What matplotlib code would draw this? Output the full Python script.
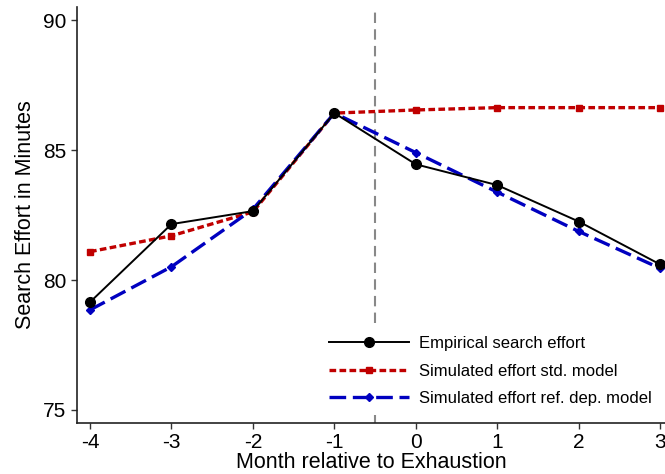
import numpy as np
import matplotlib
matplotlib.use('Agg')
import matplotlib.pyplot as plt

plt.rcParams['font.family'] = ['Liberation Sans', 'DejaVu Sans']
plt.rcParams['axes.unicode_minus'] = False

# months relative to exhaustion
months = [-4, -3, -2, -1, 0, 1, 2, 3]

# search effort values
empirical = [79.15, 82.15, 82.65, 86.42, 84.45, 83.65, 82.25, 80.6]
std_model = [81.09, 81.7, 82.62, 86.42, 86.54, 86.63, 86.63, 86.63]
ref_dep_model = [78.85, 80.51, 82.72, 86.42, 84.9, 83.38, 81.87, 80.45]

fig = plt.figure(figsize=(6.65, 4.74), dpi=100)
ax = fig.add_axes([0.1158, 0.1076, 0.8842, 0.8776])

ax.axvline(-0.5, color='#888888', linestyle=(0, (5, 3)), linewidth=1.5, zorder=1)

ax.plot(months, empirical, color='black', linewidth=1.4, marker='o', markersize=7,
        label='Empirical search effort', zorder=3)
ax.plot(months, std_model, color='#C00000', linewidth=2.4, linestyle=(0, (2, 1)),
        marker='s', markersize=5, label='Simulated effort std. model', zorder=2)
ax.plot(months, ref_dep_model, color='#0000C0', linewidth=2.4, linestyle=(0, (5, 2)),
        marker='D', markersize=4, label='Simulated effort ref. dep. model', zorder=2)

ax.set_xlim(-4.16, 3.06)
ax.set_ylim(74.5, 90.5)
ax.set_xticks(months)
ax.set_yticks([75, 80, 85, 90])
ax.tick_params(labelsize=15, length=4, width=1, color='#333333', labelcolor='black')

for s in ['top', 'right']:
    ax.spines[s].set_visible(False)
for s in ['left', 'bottom']:
    ax.spines[s].set_linewidth(1.2)
    ax.spines[s].set_color('#222222')

ax.set_xlabel('Month relative to Exhaustion', fontsize=15.5, labelpad=0)
ax.set_ylabel('Search Effort in Minutes', fontsize=15.5, labelpad=5)

leg = ax.legend(loc='lower right', bbox_to_anchor=(1.005, 0.0), fontsize=12, frameon=True,
                framealpha=1, edgecolor='white', handlelength=4.8, handletextpad=0.6,
                labelspacing=0.75, borderpad=0.5)
leg.get_frame().set_linewidth(0)
leg.set_zorder(2.2)

fig.savefig('out.png', dpi=100)
